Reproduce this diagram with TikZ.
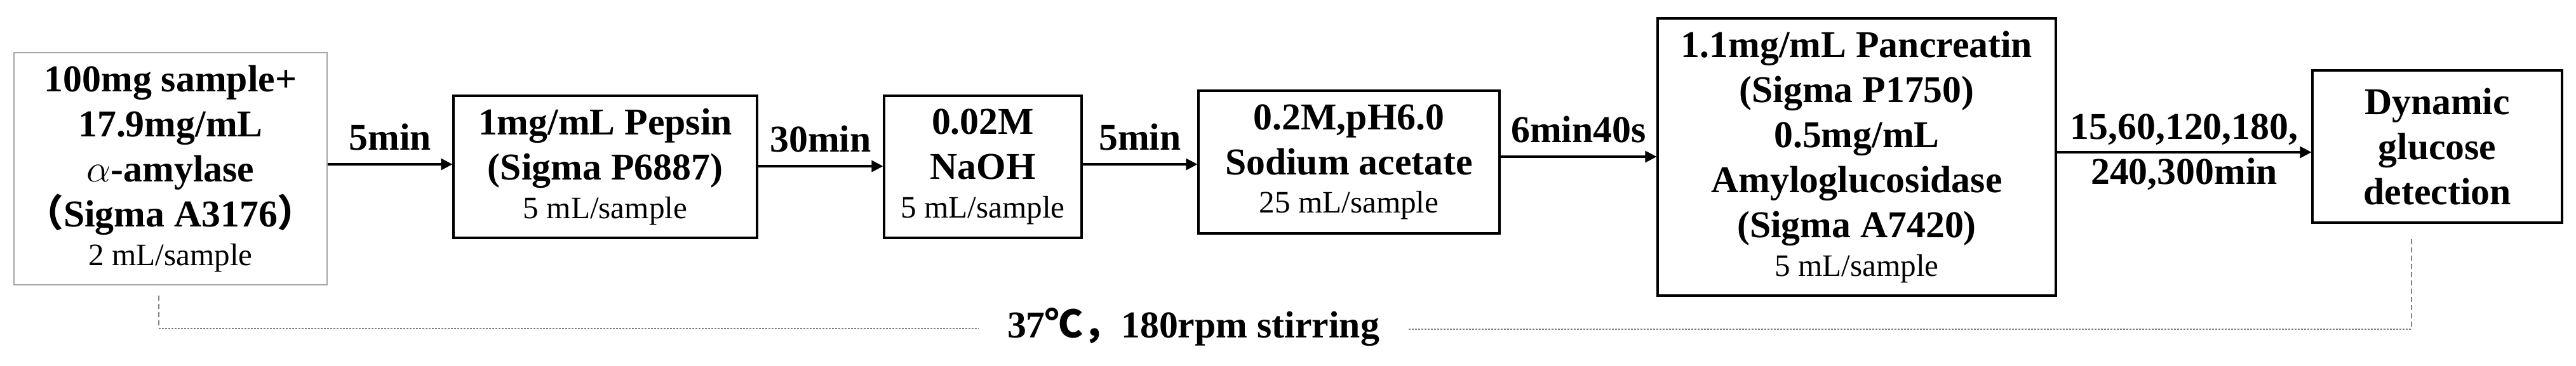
\documentclass[tikz,border=0pt]{standalone}
\usepackage{fontspec}
\setmainfont{Liberation Serif}
\newfontfamily\cjk{Noto Sans CJK SC}
\usepackage{tikz}
\usepackage{xcolor}
\usetikzlibrary{calc,positioning,arrows.meta}

\definecolor{guide}{RGB}{128, 128, 128}
\newcommand{\smalltxt}[1]{{\fontsize{14}{16.8}\selectfont\mdseries #1}}

\tikzset{
    stage/.style={draw, line width=0.9pt, align=center, inner sep=0pt,
        font=\fontsize{17}{20.2}\selectfont\bfseries},
    flow/.style={-{Triangle[length=0.18cm,width=0.18cm]}, line width=0.9pt},
    timing/.style={font=\fontsize{17}{20.2}\selectfont\bfseries, inner sep=0pt},
    vguide/.style={draw=guide, line width=0.6pt, dash pattern=on 0.08cm off 0.05cm},
    hguide/.style={draw=guide, line width=0.6pt, dash pattern=on 0.03cm off 0.02cm}
}

\begin{document}
\begin{tikzpicture}
    \useasboundingbox (0,0) rectangle (40.56,-5.76);

    % digestion stages
    \node[stage, draw=gray!70, line width=0.6pt, minimum width=4.93cm, minimum height=3.66cm] (sample) at (2.685,-2.66)
        {100mg sample+\\17.9mg/mL\\$\alpha$-amylase\\{\cjk （}Sigma A3176{\cjk ）}\\[-3pt]\smalltxt{2 mL/sample}};
    \node[stage, minimum width=4.78cm, minimum height=2.24cm] (pepsin) at (9.53,-2.63)
        {1mg/mL Pepsin\\(Sigma P6887)\\[-3pt]\smalltxt{5 mL/sample}};
    \node[stage, minimum width=3.11cm, minimum height=2.24cm] (naoh) at (15.475,-2.63)
        {0.02M\\NaOH\\[-3pt]\smalltxt{5 mL/sample}};
    \node[stage, minimum width=4.74cm, minimum height=2.25cm] (acetate) at (21.24,-2.555)
        {0.2M,pH6.0\\Sodium acetate\\[-3pt]\smalltxt{25 mL/sample}};
    \node[stage, minimum width=6.27cm, minimum height=4.37cm] (enzymes) at (29.235,-2.475)
        {1.1mg/mL Pancreatin\\(Sigma P1750)\\0.5mg/mL\\Amyloglucosidase\\(Sigma A7420)\\[-3pt]\smalltxt{5 mL/sample}};
    \node[stage, minimum width=3.93cm, minimum height=2.40cm] (glucose) at (38.375,-2.31)
        {Dynamic\\glucose\\detection};

    % timed transfers
    \draw[flow] (sample.east |- 0,-2.59) -- node[timing, above=0.2cm] {5min} (pepsin.west |- 0,-2.59);
    \draw[flow] (pepsin.east |- 0,-2.62) -- node[timing, above=0.2cm] {30min} (naoh.west |- 0,-2.62);
    \draw[flow] (naoh.east |- 0,-2.59) -- node[timing, above=0.2cm] {5min} (acetate.west |- 0,-2.59);
    \draw[flow] (acetate.east |- 0,-2.47) -- node[timing, above=0.2cm] {6min40s} (enzymes.west |- 0,-2.47);
    \draw[flow] (enzymes.east |- 0,-2.40) -- node[timing, align=center] {15,60,120,180,\\240,300min} (glucose.west |- 0,-2.40);

    % incubation conditions
    \coordinate (start) at (2.50,-5.18);
    \coordinate (stop) at (37.97,-5.19);
    \node[timing, inner xsep=0.45cm] (cond) at (18.79,-5.15) {37{\cjk ℃，}180rpm stirring};
    \draw[vguide] ([yshift=-0.16cm]sample.south -| start) -- (start);
    \draw[hguide] (start) -- (start -| cond.west);
    \draw[hguide] (stop -| cond.east) -- (stop);
    \draw[vguide] ([yshift=-0.24cm]glucose.south -| stop) -- (stop);
\end{tikzpicture}
\end{document}
